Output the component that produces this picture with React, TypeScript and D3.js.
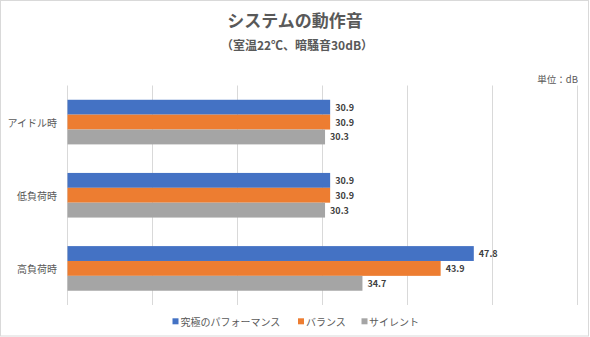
import React from 'react';
import * as d3 from 'd3';

const categories = ['アイドル時', '低負荷時', '高負荷時'];
const seriesNames = ['究極のパフォーマンス', 'バランス', 'サイレント'];
const perfValues = [30.9, 30.9, 47.8];
const balanceValues = [30.9, 30.9, 43.9];
const silentValues = [30.3, 30.3, 34.7];
const xTicks = [0, 10, 20, 30, 40, 50, 60];
const colors = ['#4472C4', '#ED7D31', '#A5A5A5'];

const W = 590;
const H = 337;
const FONT = '"Noto Sans CJK JP", "Noto Sans", sans-serif';

export default function App() {
  const series = [perfValues, balanceValues, silentValues];
  const x = d3.scaleLinear().domain([0, 60]).range([67.5, 577.5]);
  const y = d3.scaleBand<string>().domain(categories).range([85.5, 305]).paddingInner(0.39).paddingOuter(0.195);
  const inner = d3.scaleBand<number>().domain([0, 1, 2]).range([0, y.bandwidth()]);

  const legendItems = [
    { x: 172.5, textX: 180.5 },
    { x: 298, textX: 306 },
    { x: 361.5, textX: 369 },
  ];

  return (
    <svg width={W} height={H} style={{ position: 'absolute', left: 0, top: 0, background: '#fff' }} fontFamily={FONT}>
      <rect x={0.5} y={0.5} width={W - 2} height={H - 1.5} fill="#fff" stroke="#d9d9d9" />
      <text x={295} y={27} textAnchor="middle" fontSize={17} fontWeight="bold" fill="#595959">システムの動作音</text>
      <text x={297} y={50} textAnchor="middle" fontSize={12} fontWeight="bold" fill="#595959">（室温22℃、暗騒音30dB）</text>
      <text x={578} y={83} textAnchor="end" fontSize={9.5} fill="#595959">単位：dB</text>
      {xTicks.map((t) => (
        <line key={t} x1={x(t)} x2={x(t)} y1={85.5} y2={305} stroke="#d9d9d9" strokeWidth={1} />
      ))}
      {categories.map((c, ci) => (
        <g key={c}>
          <text x={57} y={(y(c) as number) + y.bandwidth() / 2} textAnchor="end" dominantBaseline="central" fontSize={10} fill="#595959">{c}</text>
          {series.map((vals, si) => {
            const by = (y(c) as number) + (inner(si) as number);
            return (
              <g key={si}>
                <rect x={x(0)} y={by} width={x(vals[ci]) - x(0)} height={inner.bandwidth()} fill={colors[si]} />
                <text x={x(vals[ci]) + 5} y={by + inner.bandwidth() / 2} dominantBaseline="central" fontSize={9} fontWeight="bold" fill="#404040">{vals[ci].toFixed(1)}</text>
              </g>
            );
          })}
        </g>
      ))}
      {seriesNames.map((n, i) => (
        <g key={n}>
          <rect x={legendItems[i].x} y={318.3} width={6} height={6} fill={colors[i]} />
          <text x={legendItems[i].textX} y={321.3} dominantBaseline="central" fontSize={10} fill="#595959">{n}</text>
        </g>
      ))}
    </svg>
  );
}
